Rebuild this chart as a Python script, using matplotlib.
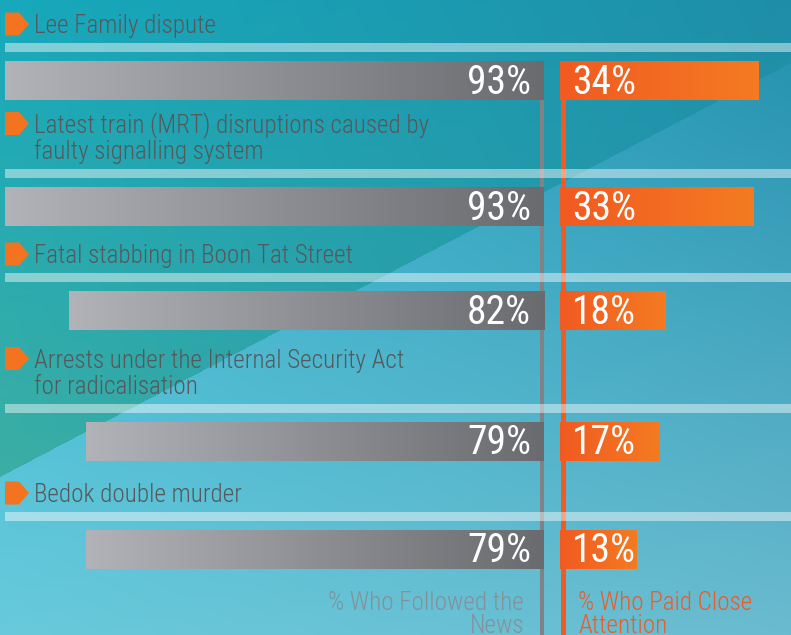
import numpy as np
import matplotlib
matplotlib.use("Agg")
import matplotlib.pyplot as plt
from matplotlib import font_manager as fm
from matplotlib.patches import Polygon, Rectangle
from matplotlib.colors import to_rgb

# ---------------- data ----------------
categories = [
    "Lee Family dispute",
    "Latest train (MRT) disruptions caused by\nfaulty signalling system",
    "Fatal stabbing in Boon Tat Street",
    "Arrests under the Internal Security Act\nfor radicalisation",
    "Bedok double murder",
]
followed = [93, 93, 82, 79, 79]
close_attention = [34, 33, 18, 17, 13]
legend_followed = ["% Who Followed the", "News"]
legend_close = ["% Who Paid Close", "Attention"]

# ---------------- layout / style ----------------
W, H = 791, 635
bar_top = [61, 187, 291, 422, 530]
BAR_H = 39
LABEL_COLOR = "#55595b"
GRAY_LEFT, GRAY_RIGHT = "#b2b3b8", "#6a6b6f"
OR_LEFT, OR_RIGHT = "#f15a22", "#f47b21"
MARK_COLOR = "#f47321"

avail = {f.name for f in fm.fontManager.ttflist}
FONT_NAME = "DejaVu Sans"
for cand in ["Roboto Condensed", "Archivo Narrow", "PT Sans Narrow",
             "Liberation Sans Narrow", "Arimo", "Liberation Sans"]:
    if cand in avail:
        FONT_NAME = cand
        break
FONT = [FONT_NAME, "DejaVu Sans"]
LABEL_WEIGHT = 300

G_ZERO = 544          # pixel of gray-bar baseline
O_ZERO = 560          # pixel of orange-bar baseline
G_SCALE = 539 / 93    # px per percent
O_SCALE = 5.85

fig = plt.figure(figsize=(W / 100, H / 100), dpi=100)
renderer = fig.canvas.get_renderer()


def fit_size(s, target_px, weight="normal", base=20.0):
    t = fig.text(0, 0, s, fontsize=base, family=FONT, fontweight=weight)
    w = t.get_window_extent(renderer).width
    t.remove()
    return base * target_px / w


LABEL_FS = fit_size("Lee Family dispute", 182, LABEL_WEIGHT)
PCT_FS = fit_size("93%", 64)

# ---------------- background ----------------
bg = fig.add_axes([0, 0, 1, 1])
bg.axis("off")
yy, xx = np.mgrid[0:H, 0:W] + 0.5
u = (xx / W)[..., None]
v = (yy / H)[..., None]


def bil(tl, tr, bl, br):
    tl, tr, bl, br = [np.array(to_rgb(c)) for c in (tl, tr, bl, br)]
    return (1 - u) * (1 - v) * tl + u * (1 - v) * tr + (1 - u) * v * bl + u * v * br


field_a = bil("#17a9bc", "#1f8ea8", "#48b09c", "#2a9aa8")
field_b = bil("#2fb4d0", "#2090ae", "#68cadc", "#6bbbcf")
line_y = 477 - (477 - 63) * xx / W
mask = (yy > line_y)[..., None]
img = np.where(mask, field_b, field_a)
bg.imshow(img, extent=(0, W, H, 0), aspect="auto", zorder=0, interpolation="bilinear")
bg.set_xlim(0, W)
bg.set_ylim(H, 0)

centers = [t + BAR_H / 2 for t in bar_top]
grad = np.linspace(0, 1, 256)[None, :, None]

# ---------------- gray bars (left) ----------------
ax_g = fig.add_axes([0, 0, G_ZERO / W, 1])
ax_g.patch.set_visible(False)
ax_g.axis("off")
g_bars = ax_g.barh(centers, followed, height=BAR_H, left=0, color="none", edgecolor="none")
g_img = (1 - grad) * np.array(to_rgb(GRAY_LEFT)) + grad * np.array(to_rgb(GRAY_RIGHT))
for b, val in zip(g_bars, followed):
    y0, h = b.get_y(), b.get_height()
    im = ax_g.imshow(g_img, extent=(val, 0, y0 + h, y0), aspect="auto", zorder=2)
    im.set_clip_path(b)
    ax_g.annotate(f"{val}%", xy=(0, y0 + h / 2), xytext=(-13, -13),
                  textcoords="offset pixels", ha="right", va="baseline",
                  color="white", fontsize=PCT_FS, family=FONT, zorder=3)
ax_g.vlines(0.3, bar_top[0], H, color="#808286", lw=5 * 0.72, zorder=1)
for i, ln in enumerate(legend_followed):
    ax_g.annotate(ln, xy=(0, bar_top[-1] + BAR_H), xytext=(-20, -41 - 23 * i),
                  textcoords="offset pixels", ha="right", va="baseline",
                  color="#83929a", fontsize=LABEL_FS, family=FONT,
                  fontweight=LABEL_WEIGHT, annotation_clip=False)
ax_g.set_xlim(G_ZERO / G_SCALE, 0)
ax_g.set_ylim(H, 0)

# ---------------- orange bars (right) ----------------
ax_o = fig.add_axes([O_ZERO / W, 0, (W - O_ZERO) / W, 1])
ax_o.patch.set_visible(False)
ax_o.axis("off")
o_bars = ax_o.barh(centers, close_attention, height=BAR_H, left=0, color="none", edgecolor="none")
o_img = (1 - grad) * np.array(to_rgb(OR_LEFT)) + grad * np.array(to_rgb(OR_RIGHT))
for b, val in zip(o_bars, close_attention):
    y0, h = b.get_y(), b.get_height()
    im = ax_o.imshow(o_img, extent=(0, val, y0 + h, y0), aspect="auto", zorder=2)
    im.set_clip_path(b)
    ax_o.annotate(f"{val}%", xy=(0, y0 + h / 2), xytext=(12, -13),
                  textcoords="offset pixels", ha="left", va="baseline",
                  color="white", fontsize=PCT_FS, family=FONT, zorder=3)
ax_o.vlines(2.5 / O_SCALE, bar_top[0], H, color="#f05a24", lw=5 * 0.72, zorder=1)
for i, ln in enumerate(legend_close):
    ax_o.annotate(ln, xy=(0, bar_top[-1] + BAR_H), xytext=(18, -41 - 23 * i),
                  textcoords="offset pixels", ha="left", va="baseline",
                  color="#ee5a2a", fontsize=LABEL_FS, family=FONT,
                  fontweight=LABEL_WEIGHT, annotation_clip=False)
ax_o.set_xlim(0, (W - O_ZERO) / O_SCALE)
ax_o.set_ylim(H, 0)

# ---------------- overlay: strips, markers, category labels ----------------
ov = fig.add_axes([0, 0, 1, 1])
ov.patch.set_visible(False)
ov.axis("off")
LINE_SP = 26.5
for cat, t in zip(categories, bar_top):
    strip_top = t - 18
    ov.add_patch(Rectangle((5, strip_top), W - 5, 9, facecolor="white",
                           edgecolor="none", alpha=0.45, zorder=5))
    lines = cat.split("\n")
    n = len(lines)
    base_last = strip_top - 9.5
    for i, ln in enumerate(lines):
        by = base_last - LINE_SP * (n - 1 - i)
        ov.text(34, by, ln, ha="left", va="baseline", fontsize=LABEL_FS,
                family=FONT, fontweight=LABEL_WEIGHT, color=LABEL_COLOR, zorder=6)
    first_base = base_last - LINE_SP * (n - 1)
    cy = first_base - 9.5
    ov.add_patch(Polygon([(5, cy - 11.5), (19, cy - 11.5), (29, cy),
                          (19, cy + 11.5), (5, cy + 11.5)], closed=True,
                         facecolor=MARK_COLOR, edgecolor="none", zorder=6))
ov.set_xlim(0, W)
ov.set_ylim(H, 0)

fig.savefig("out.png", dpi=100)
